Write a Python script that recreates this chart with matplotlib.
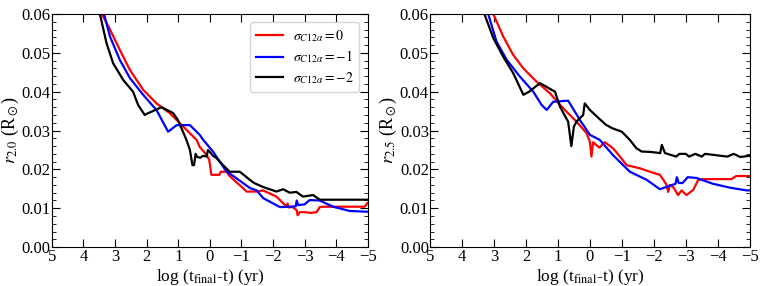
import numpy as np
import matplotlib
matplotlib.use("Agg")
import matplotlib.pyplot as plt
from matplotlib.ticker import MultipleLocator

plt.rcParams['font.family'] = ['Liberation Serif', 'DejaVu Serif']
plt.rcParams['mathtext.fontset'] = 'stix'
plt.rcParams['font.size'] = 12

# left panel, r_2.0
l_red_x = [3.42, 3.16, 2.85, 2.53, 2.11, 1.69, 1.27, 0.63, 0.42, 0.32, 0.1, 0.02, -0.05, -0.3, -0.35,
           -0.55, -0.6, -0.8, -1.05, -1.16, -1.5, -1.68, -2.11, -2.32, -2.43, -2.46, -2.5, -2.6, -2.75,
           -2.78, -2.85, -3.0, -3.2, -3.38, -3.48, -3.58, -4.9, -5.0]
l_red_y = [0.060, 0.056, 0.0508, 0.0456, 0.0405, 0.037, 0.0345, 0.0293, 0.0276, 0.0258, 0.0237, 0.0225,
           0.0186, 0.0186, 0.0194, 0.0194, 0.0185, 0.017, 0.0152, 0.0143, 0.0143, 0.0146, 0.013, 0.0113,
           0.0104, 0.0112, 0.0102, 0.0104, 0.0095, 0.0082, 0.009, 0.009, 0.0088, 0.009, 0.0103, 0.0104,
           0.0104, 0.0114]

l_blue_x = [3.35, 3.16, 2.85, 2.53, 2.11, 1.69, 1.32, 1.05, 0.63, 0.32, 0.21, -0.1, -0.53, -0.69, -1.27,
            -1.48, -1.69, -2.22, -2.53, -2.72, -2.75, -2.8, -3.0, -3.16, -3.48, -3.9, -4.43, -5.0]
l_blue_y = [0.060, 0.0542, 0.0482, 0.0435, 0.0392, 0.0353, 0.0297, 0.0314, 0.0314, 0.0289, 0.0276, 0.0246,
            0.0194, 0.0186, 0.0152, 0.0146, 0.0126, 0.0103, 0.0104, 0.0105, 0.012, 0.0108, 0.0110, 0.0121,
            0.012, 0.0104, 0.0093, 0.0091]

l_black_x = [3.48, 3.27, 3.06, 2.74, 2.43, 2.27, 2.06, 2.0, 1.53, 1.16, 1.01, 0.74, 0.63, 0.55, 0.5, 0.45,
             0.4, 0.3, 0.22, 0.1, 0.06, 0.0, -0.1, -0.2, -0.42, -0.63, -0.95, -1.27, -1.4, -1.68, -2.11,
             -2.32, -2.53, -2.74, -2.95, -3.27, -3.48, -5.0]
l_black_y = [0.060, 0.0525, 0.0473, 0.043, 0.040, 0.0366, 0.034, 0.0343, 0.036, 0.0345, 0.0327, 0.0276,
             0.025, 0.0211, 0.0211, 0.024, 0.0232, 0.023, 0.0235, 0.0233, 0.025, 0.0245, 0.0235, 0.023,
             0.0211, 0.0194, 0.0194, 0.0173, 0.0165, 0.0155, 0.0143, 0.0149, 0.014, 0.0142, 0.013,
             0.0134, 0.0122, 0.0122]

# right panel, r_2.5
r_red_x = [3.02, 2.71, 2.4, 2.08, 1.67, 1.25, 0.83, 0.42, 0.1, 0.0, -0.05, -0.1, -0.3, -0.4, -0.47, -0.73,
           -0.94, -1.15, -1.35, -1.56, -1.88, -2.19, -2.3, -2.4, -2.45, -2.5, -2.6, -2.76, -2.87, -3.02,
           -3.23, -3.39, -3.54, -4.43, -4.58, -5.0]
r_red_y = [0.060, 0.0542, 0.0495, 0.046, 0.0426, 0.0396, 0.0357, 0.0323, 0.0293, 0.0271, 0.0233, 0.027,
           0.0256, 0.0265, 0.027, 0.0254, 0.0233, 0.0211, 0.0207, 0.0203, 0.0194, 0.0186, 0.0173, 0.016,
           0.0142, 0.016, 0.0155, 0.0134, 0.0146, 0.0134, 0.0147, 0.0173, 0.0175, 0.0175, 0.0183, 0.0183]

r_blue_x = [3.18, 2.92, 2.6, 2.19, 1.77, 1.51, 1.35, 1.15, 0.68, 0.31, 0.0, -0.31, -0.72, -1.25, -1.78,
            -2.19, -2.68, -2.72, -2.78, -2.9, -3.06, -3.33, -3.85, -4.38, -4.9, -5.0]
r_blue_y = [0.060, 0.0529, 0.0482, 0.0439, 0.040, 0.0366, 0.0353, 0.0374, 0.0377, 0.0327, 0.0289, 0.0276,
            0.0237, 0.0194, 0.0173, 0.0149, 0.0163, 0.018, 0.0165, 0.0165, 0.018, 0.0178, 0.0163, 0.0153,
            0.0146, 0.0146]

r_black_x = [3.3, 3.02, 2.71, 2.4, 2.08, 1.9, 1.56, 1.09, 0.94, 0.68, 0.58, 0.5, 0.42, 0.21, 0.16, 0.0,
             -0.3, -0.5, -0.7, -1.0, -1.25, -1.45, -1.62, -1.9, -2.2, -2.25, -2.35, -2.7, -2.8, -3.0,
             -3.1, -3.3, -3.5, -3.6, -4.3, -4.5, -4.7, -5.0]
r_black_y = [0.060, 0.0538, 0.049, 0.0448, 0.0392, 0.040, 0.0422, 0.040, 0.0362, 0.0323, 0.026, 0.031,
             0.0323, 0.034, 0.037, 0.0353, 0.033, 0.0315, 0.0306, 0.0297, 0.0276, 0.0255, 0.0246, 0.0245,
             0.0242, 0.0263, 0.0242, 0.0233, 0.024, 0.024, 0.0233, 0.024, 0.0233, 0.024, 0.0233, 0.024,
             0.0232, 0.0235]

labels = [r'$\sigma_{C12\alpha}=0$', r'$\sigma_{C12\alpha}=-1$', r'$\sigma_{C12\alpha}=-2$']
colors = ['red', 'blue', 'black']

fig = plt.figure(figsize=(7.63, 2.86), dpi=100)
ax1 = fig.add_axes([0.068, 0.136, 0.414, 0.815])
ax2 = fig.add_axes([0.5636, 0.136, 0.419, 0.815])

panels = [
    (ax1, [(l_red_x, l_red_y), (l_blue_x, l_blue_y), (l_black_x, l_black_y)], r'$r_{2.0}$ (R$_\odot$)'),
    (ax2, [(r_red_x, r_red_y), (r_blue_x, r_blue_y), (r_black_x, r_black_y)], r'$r_{2.5}$ (R$_\odot$)'),
]

for ax, series, ylab in panels:
    for (x, y), c, lab in zip(series, colors, labels):
        ax.plot(x, y, color=c, lw=1.6, label=lab)
    ax.set_xlim(5, -5)
    ax.set_ylim(0, 0.06)
    ax.yaxis.set_major_locator(MultipleLocator(0.01))
    ax.yaxis.set_minor_locator(MultipleLocator(0.002))
    ax.tick_params(which='both', direction='in', top=True, right=True, labelsize=12)
    ax.tick_params(axis='y', pad=0.8)
    ax.tick_params(axis='x', pad=1.5)
    ax.tick_params(which='major', length=6)
    ax.tick_params(which='minor', length=3)
    ax.set_xlabel(r'log (t$_{\rm final}$-t) (yr)', fontsize=12.5, labelpad=1)
    ax.set_ylabel(ylab, fontsize=13)
    ax.set_xticks(np.arange(-5, 6, 1))
    ax.set_xticklabels([str(v).replace('-', '\u2212') for v in range(-5, 6)])

ax1.yaxis.set_label_coords(-0.099, 0.5)
ax2.yaxis.set_label_coords(-0.097, 0.5)

ax1.legend(loc='upper right', fontsize=10, handlelength=2.0, borderpad=0.4,
           labelspacing=0.35, handletextpad=0.7, borderaxespad=0.6)

fig.savefig('out.png', dpi=100)
